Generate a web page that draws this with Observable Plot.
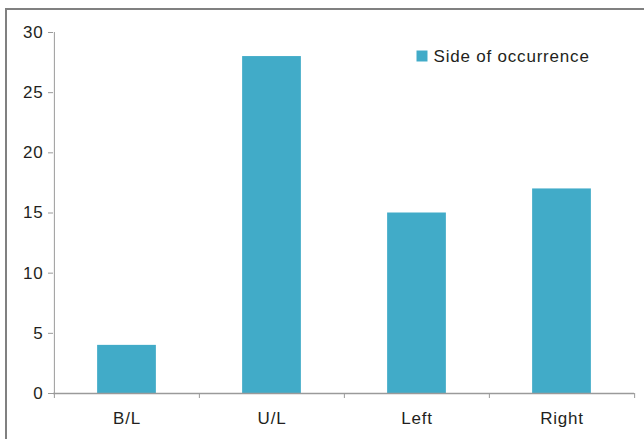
<!DOCTYPE html>
<html>
<head>
<meta charset="utf-8">
<script src="https://cdn.jsdelivr.net/npm/d3@7"></script>
<script src="https://cdn.jsdelivr.net/npm/@observablehq/plot@0.6"></script>
<style>
  html, body { margin: 0; padding: 0; background: #fff; overflow: hidden; }
  #wrap { position: relative; width: 644px; height: 439px; }
  #border { position: absolute; left: 5px; top: 8px; width: 700px; height: 500px; border: 2px solid #808080; box-sizing: border-box; pointer-events: none; }
  #chart { position: absolute; left: 0; top: 0; }
</style>
</head>
<body>
<div id="wrap"><div id="chart"></div><div id="border"></div></div>
<script>
const categories = ["B/L", "U/L", "Left", "Right"];
const values = [4, 28, 15, 17];
const seriesName = "Side of occurrence";
const yTicks = [0, 5, 10, 15, 20, 25, 30];

const data = categories.map((c, i) => ({category: c, value: values[i]}));

const W = 644, H = 439;
const mL = 53, mR = 10, mT = 32, mB = 46;
const step = (W - mL - mR) / categories.length;
const barW = 59;
const inset = (step - barW) / 2;
const color = "#41abc8";
const axisColor = "#9a9a9a";
const textColor = "#231f20";

const chart = Plot.plot({
  width: W,
  height: H,
  marginLeft: mL,
  marginRight: mR,
  marginTop: mT,
  marginBottom: mB,
  style: {fontFamily: "Liberation Sans, Arial, sans-serif", fontSize: "17px", letterSpacing: "0.8px", color: textColor, background: "transparent"},
  x: {domain: categories, padding: 0},
  y: {domain: [0, 30]},
  marks: [
    Plot.barY(data, {x: "category", y: "value", fill: color, insetLeft: inset, insetRight: inset}),
    Plot.ruleX([categories[0]], {dx: -step / 2, stroke: axisColor, strokeWidth: 1}),
    Plot.ruleY([0], {stroke: axisColor, strokeWidth: 1.5}),
    Plot.ruleX(categories, {x: d => d, dx: -step / 2, y1: 0, y2: 0, insetBottom: -5, stroke: axisColor}),
    Plot.ruleX([categories[categories.length - 1]], {dx: step / 2, y1: 0, y2: 0, insetBottom: -5, stroke: axisColor}),
    Plot.axisY({ticks: yTicks, tickSize: 5, tickPadding: 5, stroke: axisColor, fill: textColor, fontSize: 17, label: null}),
    Plot.axisX({tickSize: 0, tickPadding: 18, fill: textColor, fontSize: 17, label: null}),
    Plot.dot([seriesName], {frameAnchor: "top-left", dx: 421.5 - mL, dy: 55.5 - mT, symbol: "square", r: 6.2, fill: color, stroke: null}),
    Plot.text([seriesName], {frameAnchor: "top-left", dx: 433 - mL, dy: 56 - mT, textAnchor: "start", lineAnchor: "middle", fontSize: 17, fill: textColor})
  ]
});
document.getElementById("chart").appendChild(chart);
</script>
</body>
</html>
